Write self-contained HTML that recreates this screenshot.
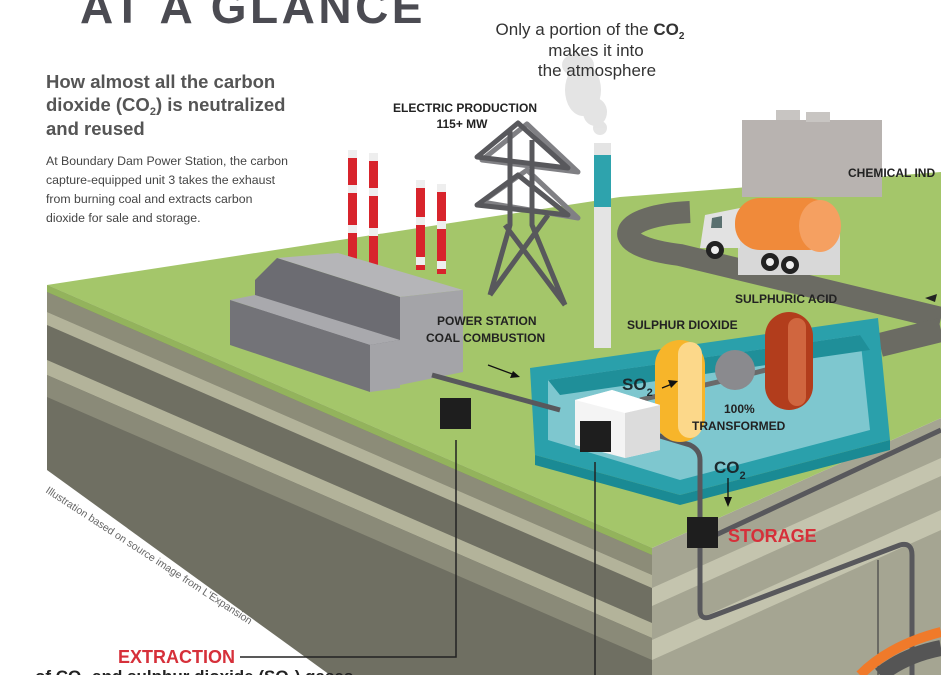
<!DOCTYPE html>
<html><head><meta charset="utf-8"><style>
body{margin:0;background:#fff;width:941px;height:675px;overflow:hidden;font-family:"Liberation Sans",sans-serif}
</style></head><body>
<svg width="941" height="675" viewBox="0 0 941 675" xmlns="http://www.w3.org/2000/svg" font-family="Liberation Sans, sans-serif">
<!-- left face -->
<polygon points="47,285 652,548 652,675 330,675 47,470" fill="#6f6f62"/>
<polygon points="47,292 652,555 652,575 47,312" fill="#8c8c78"/>
<polygon points="47,312 652,575 652,588 47,325" fill="#b3b39a"/>
<polygon points="47,360 652,623 652,638 47,375" fill="#b3b39a"/>
<polygon points="47,375 652,638 652,660 47,397" fill="#8a8a78"/>
<!-- right face -->
<polygon points="652,548 941,418 941,675 652,675" fill="#a5a592"/>
<polygon points="652,588 941,458 941,476 652,606" fill="#c4c4ae"/>
<polygon points="652,640 941,510 941,530 652,660" fill="#c4c4ae"/>
<!-- green top -->
<polygon points="47,285 620,197 941,172 941,418 652,548" fill="#a4c66a"/>
<polygon points="47,285 652,548 652,555 47,292" fill="#93b35c"/>
<!-- road -->
<path d="M690,212 C620,215 600,245 680,255 L941,318" stroke="#6b6b63" stroke-width="22" fill="none"/>
<path d="M880,345 L941,330" stroke="#6b6b63" stroke-width="24" fill="none"/>
<!-- chemical building -->
<rect x="742" y="120" width="140" height="77" fill="#b8b3b0"/>
<rect x="776" y="110" width="24" height="10" fill="#c8c5c2"/>
<rect x="806" y="112" width="24" height="10" fill="#c8c5c2"/>
<!-- truck -->
<rect x="738" y="233" width="102" height="42" fill="#d8d8d8"/>
<polygon points="705,215 740,208 740,248 700,248" fill="#e2e2e2"/>
<polygon points="712,218 722,216 722,228 711,228" fill="#5a7070"/>
<rect x="735" y="198" width="98" height="52" rx="25" fill="#f08a3a"/>
<ellipse cx="820" cy="226" rx="21" ry="26" fill="#f5a061"/>
<circle cx="715" cy="250" r="9" fill="#222"/><circle cx="715" cy="250" r="4" fill="#eee"/>
<circle cx="770" cy="262" r="9" fill="#222"/><circle cx="770" cy="262" r="4" fill="#eee"/>
<circle cx="790" cy="265" r="9" fill="#222"/><circle cx="790" cy="265" r="4" fill="#eee"/>
<!-- smoke -->
<g fill="#e0e0e0" opacity="0.85">
<ellipse cx="583" cy="90" rx="18" ry="26"/><ellipse cx="595" cy="112" rx="12" ry="14"/>
<ellipse cx="600" cy="128" rx="7" ry="7"/><ellipse cx="578" cy="65" rx="16" ry="12"/>
</g>
<!-- chimney -->
<rect x="594" y="143" width="17" height="205" fill="#e4e4e4"/>
<rect x="594" y="155" width="17" height="52" fill="#2ea3ad"/>
<!-- stacks -->
<g>
<rect x="348" y="150" width="9" height="112" fill="#d8242c"/>
<rect x="369" y="153" width="9" height="112" fill="#d8242c"/>
<rect x="416" y="180" width="9" height="90" fill="#d8242c"/>
<rect x="437" y="184" width="9" height="90" fill="#d8242c"/>
<g fill="#eee">
<rect x="348" y="150" width="9" height="8"/><rect x="348" y="185" width="9" height="8"/><rect x="348" y="225" width="9" height="8"/>
<rect x="369" y="153" width="9" height="8"/><rect x="369" y="188" width="9" height="8"/><rect x="369" y="228" width="9" height="8"/>
<rect x="416" y="180" width="9" height="8"/><rect x="416" y="217" width="9" height="8"/><rect x="416" y="257" width="9" height="8"/>
<rect x="437" y="184" width="9" height="8"/><rect x="437" y="221" width="9" height="8"/><rect x="437" y="261" width="9" height="8"/>
</g></g>
<!-- tower -->
<g stroke="#58585c" stroke-width="5" fill="none" stroke-linejoin="round">
<path d="M482,160 L527,124 L578,172 Z" stroke="#808084"/>
<path d="M482,202 L527,170 L578,218 Z" stroke="#808084"/>
<path d="M477,157 L518,123 L568,168 Z"/>
<path d="M477,205 L518,175 L568,215 Z"/>
<path d="M510,130 L510,225 L490,295 M532,140 L532,225 L565,305 M490,295 L548,215 M565,305 L505,225"/>
</g>
<!-- buildings -->
<polygon points="277,258 338,253 463,290 400,297" fill="#b5b5b8"/>
<polygon points="255,280 277,258 400,297 400,378 255,335" fill="#6c6c72"/>
<polygon points="400,297 463,290 463,372 400,385" fill="#a4a4a8"/>
<polygon points="230,300 255,295 400,340 370,345" fill="#a9a9ad"/>
<polygon points="230,300 370,345 370,392 230,345" fill="#737378"/>
<polygon points="370,345 400,340 400,388 370,392" fill="#a4a4a8"/>
<!-- pool -->
<polygon points="530,368 878,318 890,440 680,495 535,455" fill="#2aa0ab"/>
<polygon points="548,380 860,335 870,430 680,480 548,440" fill="#7ec7cf"/>
<polygon points="548,380 860,335 870,350 560,395" fill="#1f8f99"/>
<polygon points="535,455 680,495 890,440 890,450 680,505 535,465" fill="#1a8a94"/>
<!-- pipe -->
<path d="M432,375 L560,410" stroke="#58585c" stroke-width="5"/>
<path d="M650,433 L690,445 Q700,450 700,460 L700,520" stroke="#58585c" stroke-width="5" fill="none"/>
<path d="M705,540 L941,430" stroke="#58585c" stroke-width="5"/>
<path d="M700,540 L700,610 Q700,620 710,617 L900,545 Q912,542 912,555 L912,675" stroke="#58585c" stroke-width="5" fill="none"/>
<path d="M640,400 L735,378 L785,365" stroke="#6a6a6a" stroke-width="5"/>
<!-- vessels -->
<rect x="655" y="340" width="50" height="102" rx="25" fill="#f7b52a"/>
<rect x="678" y="342" width="24" height="96" rx="12" fill="#fcd88a"/>
<circle cx="735" cy="370" r="20" fill="#8a8a8e"/>
<rect x="765" y="312" width="48" height="98" rx="24" fill="#b23d1c"/>
<rect x="788" y="318" width="18" height="88" rx="9" fill="#d0663f"/>
<!-- white box -->
<polygon points="575,400 612,390 660,405 660,450 625,458 575,445" fill="#f4f4f4"/>
<polygon points="575,400 612,390 660,405 625,413" fill="#ffffff"/>
<polygon points="625,413 660,405 660,450 625,458" fill="#dcdcdc"/>
<!-- black squares & lines -->
<rect x="440" y="398" width="31" height="31" fill="#1e1e1e"/>
<rect x="580" y="421" width="31" height="31" fill="#1e1e1e"/>
<rect x="687" y="517" width="31" height="31" fill="#1e1e1e"/>
<path d="M456,440 L456,657 L240,657" stroke="#222" stroke-width="1.5" fill="none"/>
<path d="M595,462 L595,675" stroke="#222" stroke-width="1.5"/>
<path d="M878,560 L878,675" stroke="#444" stroke-width="1.2"/>
<!-- orange arc -->
<path d="M860,675 Q890,645 941,632" stroke="#f07a2a" stroke-width="10" fill="none"/>
<path d="M880,675 Q905,655 941,648" stroke="#555" stroke-width="16" fill="none"/>
<!-- arrows -->
<path d="M488,365 L515,375" stroke="#111" stroke-width="1.3"/><polygon points="520,377 510,378 513,371" fill="#111"/>
<path d="M662,388 L672,384" stroke="#111" stroke-width="1.3"/><polygon points="678,381 668,380 671,388" fill="#111"/>
<path d="M728,478 L728,500" stroke="#111" stroke-width="1.3"/><polygon points="728,507 724,497 732,497" fill="#111"/>
<polygon points="925,298 937,294 935,302" fill="#222"/>
<!-- texts -->
<text x="80" y="23" font-size="46" font-weight="bold" fill="#4b4b52" letter-spacing="3.5">AT A GLANCE</text>
<g font-size="17" fill="#333" text-anchor="middle">
<text x="590" y="35">Only a portion of the <tspan font-weight="bold">CO</tspan><tspan font-size="10" dy="4" font-weight="bold">2</tspan></text>
<text x="596" y="56">makes it into</text>
<text x="597" y="76">the atmosphere</text>
</g>
<g font-size="18.5" font-weight="bold" fill="#555">
<text x="46" y="88">How almost all the carbon</text>
<text x="46" y="111">dioxide (CO<tspan font-size="11" dy="4">2</tspan><tspan dy="-4">) is neutralized</tspan></text>
<text x="46" y="135">and reused</text>
</g>
<g font-size="12.3" fill="#444">
<text x="46" y="165">At Boundary Dam Power Station, the carbon</text>
<text x="46" y="184">capture-equipped unit 3 takes the exhaust</text>
<text x="46" y="203">from burning coal and extracts carbon</text>
<text x="46" y="222">dioxide for sale and storage.</text>
</g>
<g font-size="12" font-weight="bold" fill="#222">
<text x="465" y="112" text-anchor="middle">ELECTRIC PRODUCTION</text>
<text x="462" y="128" text-anchor="middle">115+ MW</text>
<text x="848" y="177">CHEMICAL IND</text>
<text x="735" y="303">SULPHURIC ACID</text>
<text x="627" y="329">SULPHUR DIOXIDE</text>
<text x="437" y="325">POWER STATION</text>
<text x="426" y="342">COAL COMBUSTION</text>
<text x="724" y="413">100%</text>
<text x="692" y="430">TRANSFORMED</text>
</g>
<text x="622" y="390" font-size="17" font-weight="bold" fill="#1c2a2e">SO<tspan font-size="11" dy="6">2</tspan></text>
<text x="714" y="473" font-size="17" font-weight="bold" fill="#1c2a2e">CO<tspan font-size="11" dy="6">2</tspan></text>
<text x="728" y="542" font-size="18" font-weight="bold" fill="#d6303a">STORAGE</text>
<text x="118" y="663" font-size="18" font-weight="bold" fill="#d6303a">EXTRACTION</text>
<text x="35" y="682" font-size="17" font-weight="bold" fill="#222">of CO<tspan font-size="11" dy="4">2</tspan><tspan dy="-4"> and sulphur dioxide (SO</tspan><tspan font-size="11" dy="4">2</tspan><tspan dy="-4">) gases</tspan></text>
<text x="45" y="492" font-size="10.5" fill="#666" transform="rotate(33 45 492)">Illustration based on source image from L'Expansion</text>
</svg>
</body></html>
